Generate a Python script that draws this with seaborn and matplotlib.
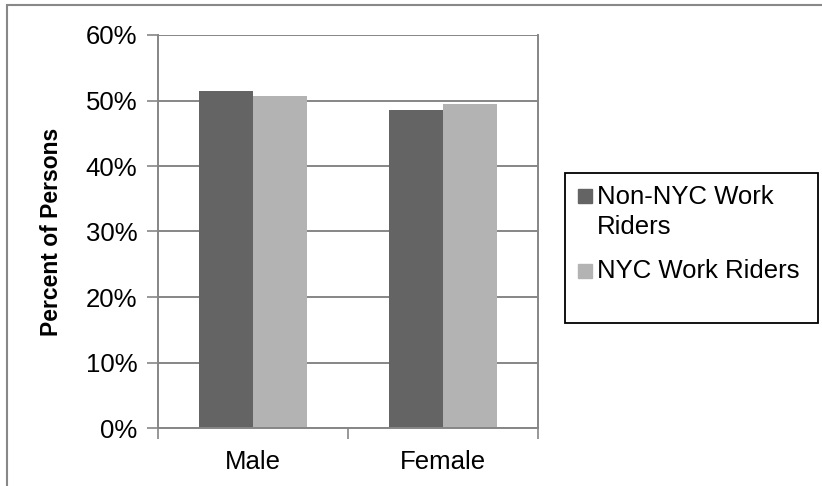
import numpy as np
import pandas as pd
import matplotlib
matplotlib.use("Agg")
import matplotlib.pyplot as plt
import seaborn as sns
from matplotlib.patches import Rectangle
from matplotlib.ticker import FuncFormatter

categories = ["Male", "Female"]
series = ["Non-NYC Work Riders", "NYC Work Riders"]
non_nyc = [0.515, 0.486]
nyc = [0.507, 0.495]
legend_lines = [["Non-NYC Work", "Riders"], ["NYC Work Riders"]]
colors = ["#646464", "#b3b3b3"]

df = pd.DataFrame({
    "category": categories * 2,
    "series": [series[0]] * 2 + [series[1]] * 2,
    "value": non_nyc + nyc,
})

sns.set_theme(style="white")
plt.rcParams["font.family"] = ["Liberation Sans", "DejaVu Sans"]
plt.rcParams["text.color"] = "black"
plt.rcParams["xtick.color"] = "black"
plt.rcParams["ytick.color"] = "black"
plt.rcParams["axes.labelcolor"] = "black"

W, H = 822, 486
fig = plt.figure(figsize=(W / 100, H / 100), dpi=100)
ax = fig.add_axes([158 / W, (H - 428) / H, (538 - 158) / W, (428 - 35) / H])

sns.barplot(data=df, x="category", y="value", hue="series", order=categories,
            hue_order=series, palette=colors, width=0.565, saturation=1,
            edgecolor="none", linewidth=0, ax=ax, legend=False)

ax.set_ylim(0, 0.6)
ax.set_xlim(-0.5, 1.5)
ax.set_yticks(np.arange(0, 0.61, 0.1))
ax.yaxis.set_major_formatter(FuncFormatter(lambda v, p: f"{v * 100:.0f}%"))
ax.yaxis.grid(True, color="#868686", linewidth=1.4)
ax.set_axisbelow(True)

# category boundary ticks and centered labels
ax.set_xticks([-0.5, 0.5, 1.5])
ax.set_xticklabels([])
ax.set_xticks([0, 1], minor=True)
ax.set_xticklabels(categories, minor=True)
ax.tick_params(axis="x", which="major", length=8, width=1.2, color="#868686", direction="out", bottom=True)
ax.tick_params(axis="x", which="minor", length=0, pad=16, labelsize=18.5)
ax.tick_params(axis="y", length=8, width=1.2, color="#868686", direction="out", left=True, labelsize=18.5, pad=7)

for s in ["left", "right", "bottom"]:
    ax.spines[s].set_color("#868686")
    ax.spines[s].set_linewidth(1.4)
ax.spines["top"].set_visible(False)

ax.set_xlabel("")
ax.set_ylabel("Percent of Persons", fontsize=16.5, fontweight="bold", labelpad=16)

# legend box, swatches and wrapped labels
def fig_xy(px, py):
    return px / W, 1 - py / H

fig.patches.append(Rectangle(fig_xy(565, 322.7), (818 - 565) / W, 150 / H,
                             transform=fig.transFigure, fill=False,
                             edgecolor="black", linewidth=1.3))
swatch_tops = [189, 263.5]
text_baselines = [[204, 234], [277.5]]
for color, top, lines, bases in zip(colors, swatch_tops, legend_lines, text_baselines):
    fig.patches.append(Rectangle(fig_xy(578, top + 14), 14 / W, 14 / H,
                                 transform=fig.transFigure, color=color))
    for line, b in zip(lines, bases):
        fig.text(*fig_xy(597, b), line, fontsize=18.5, va="baseline", ha="left")

# outer chart frame
fig.patches.append(Rectangle((7 / W, -0.1), 1.2, 1 - 5 / H + 0.1,
                             transform=fig.transFigure, fill=False,
                             edgecolor="#888888", linewidth=1.5))

fig.savefig("out.png", dpi=100)
